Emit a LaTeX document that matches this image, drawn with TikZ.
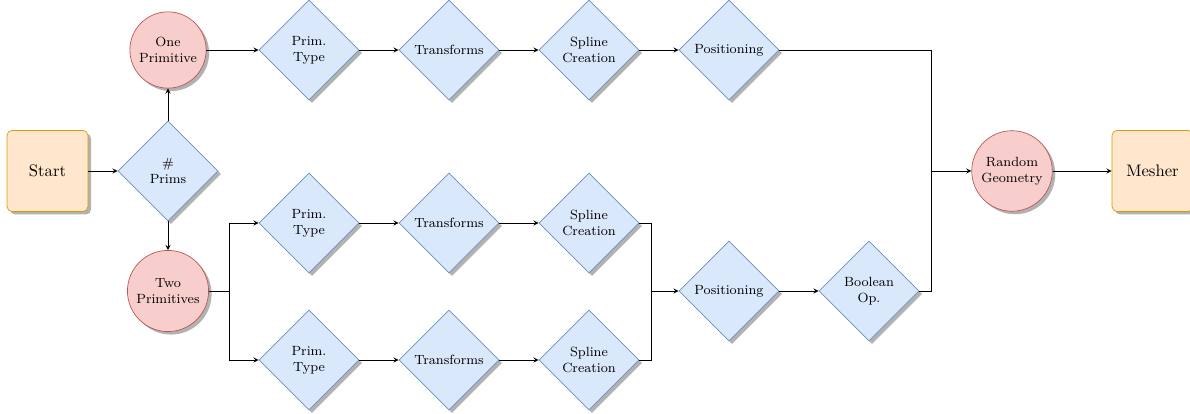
\documentclass[tikz,border=0pt]{standalone}
\usetikzlibrary{shapes.geometric,shadows,arrows}
\definecolor{boxfill}{HTML}{FFE6CC}
\definecolor{boxline}{HTML}{D79B00}
\definecolor{dfill}{HTML}{DAE8FC}
\definecolor{dline}{HTML}{6C8EBF}
\definecolor{cfill}{HTML}{F8CECC}
\definecolor{cline}{HTML}{B85450}
\tikzset{
  shade/.style={drop shadow={fill=black!30, opacity=1, shadow xshift=1.8pt, shadow yshift=-1.8pt}},
  endbox/.style={rectangle, rounded corners=3pt, draw=boxline, fill=boxfill, minimum size=48.6pt, shade},
  choice/.style={diamond, aspect=1, draw=dline, fill=dfill, minimum width=60pt, minimum height=60pt, inner sep=0pt, align=center, font=\footnotesize, shade},
  state/.style={circle, draw=cline, fill=cfill, align=center, font=\footnotesize, inner sep=3pt, shade},
  link/.style={->, >=stealth}
}
\begin{document}
\begin{tikzpicture}[x=0.6pt, y=-0.6pt]
\useasboundingbox (0,0) rectangle (1190,414);
\node[endbox] (start) at (47.5,171){Start};
\node[choice] (nprim) at (168,171){\#\\Prims};
\node[state] (one) at (168,50){One\\Primitive};
\node[state] (two) at (168,291){Two\\Primitives};
\draw[link](start) -- (nprim);
\draw[link](nprim) -- (one);
\draw[link](nprim) -- (two);
\node[choice] (ptA) at (309,50){Prim.\\Type};
\node[choice] (trA) at (449,50){Transforms};
\node[choice] (spA) at (589,50){Spline\\Creation};
\node[choice] (posA) at (729,50){Positioning};
\draw[link](one) -- (ptA);
\draw[link](ptA) -- (trA);
\draw[link](trA) -- (spA);
\draw[link](spA) -- (posA);
\node[choice] (ptB) at (309,223){Prim.\\Type};
\node[choice] (trB) at (449,223){Transforms};
\node[choice] (spB) at (589,223){Spline\\Creation};
\node[choice] (ptC) at (309,360){Prim.\\Type};
\node[choice] (trC) at (449,360){Transforms};
\node[choice] (spC) at (589,360){Spline\\Creation};
\coordinate (split) at (229,291);
\draw[](two) -- (split);
\draw[link](split) |- (ptB);
\draw[link](split) |- (ptC);
\draw[link](ptB) -- (trB);
\draw[link](trB) -- (spB);
\draw[link](ptC) -- (trC);
\draw[link](trC) -- (spC);
\node[choice] (posB) at (729,291){Positioning};
\node[choice] (bool) at (869,291){Boolean\\Op.};
\coordinate (joinB) at (651,291);
\draw[](spB) -| (joinB);
\draw[](spC) -| (joinB);
\draw[link](joinB) -- (posB);
\draw[link](posB) -- (bool);
\node[state] (rgeo) at (1012,171){Random\\Geometry};
\node[endbox] (mesh) at (1152.5,171){Mesher};
\coordinate (joinA) at (931,171);
\draw[](posA) -| (joinA);
\draw[](bool) -| (joinA);
\draw[link](joinA) -- (rgeo);
\draw[link](rgeo) -- (mesh);
\end{tikzpicture}
\end{document}
